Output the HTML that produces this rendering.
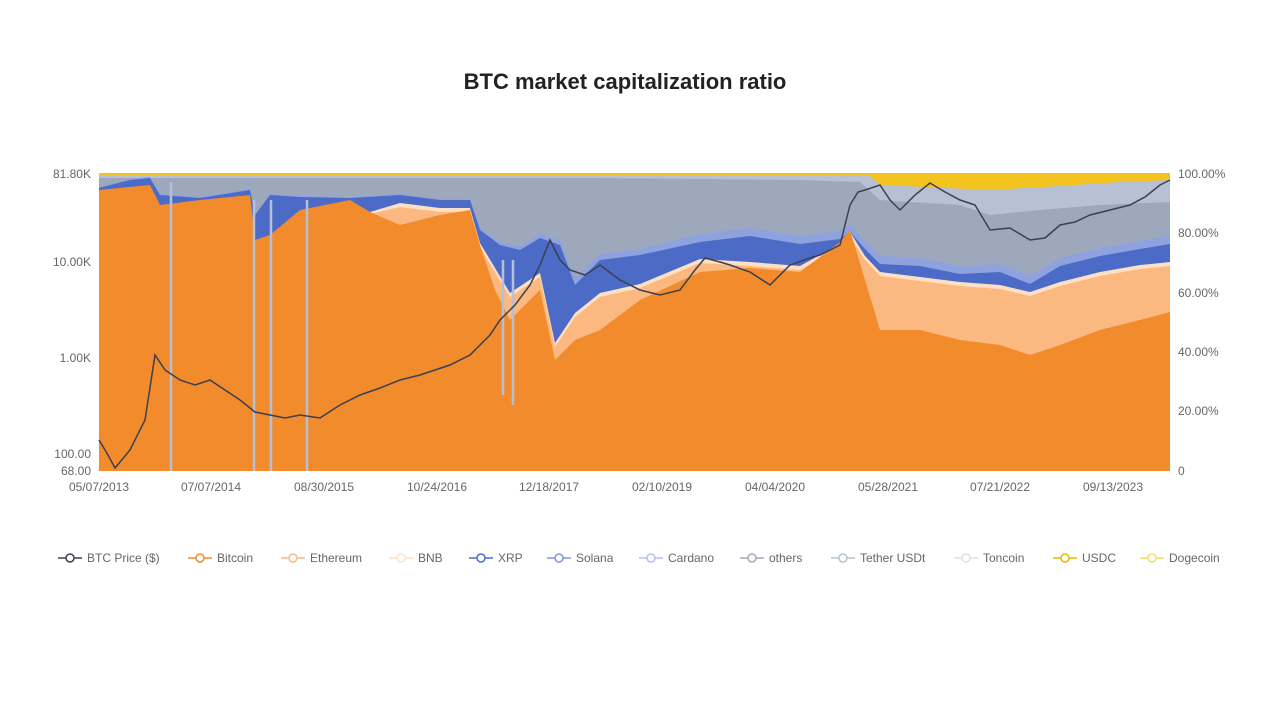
<!DOCTYPE html>
<html><head><meta charset="utf-8"><style>
body{margin:0;background:#fff;width:1280px;height:720px;overflow:hidden;font-family:"Liberation Sans",sans-serif;}
.t{position:absolute;top:69px;left:0;width:1250px;text-align:center;font-size:22px;font-weight:bold;color:#222;}
</style></head><body>
<div class="t">BTC market capitalization ratio</div>
<svg width="1280" height="720" style="position:absolute;left:0;top:0">
<g font-size="12" fill="#666" font-family="Liberation Sans,sans-serif">
<text x="91" y="178" text-anchor="end">81.80K</text>
<text x="91" y="266" text-anchor="end">10.00K</text>
<text x="91" y="362" text-anchor="end">1.00K</text>
<text x="91" y="458" text-anchor="end">100.00</text>
<text x="91" y="475" text-anchor="end">68.00</text>
<text x="1178" y="178">100.00%</text>
<text x="1178" y="237">80.00%</text>
<text x="1178" y="297">60.00%</text>
<text x="1178" y="356">40.00%</text>
<text x="1178" y="415">20.00%</text>
<text x="1178" y="475">0</text>
<g text-anchor="middle">
<text x="99" y="491">05/07/2013</text><text x="211" y="491">07/07/2014</text><text x="324" y="491">08/30/2015</text>
<text x="437" y="491">10/24/2016</text><text x="549" y="491">12/18/2017</text><text x="662" y="491">02/10/2019</text>
<text x="775" y="491">04/04/2020</text><text x="888" y="491">05/28/2021</text><text x="1000" y="491">07/21/2022</text><text x="1113" y="491">09/13/2023</text>
</g></g>
<rect x="99" y="173" width="1071" height="298" fill="#f3c31f"/>
<polygon fill="#b7c0d4" points="99,176 870,176 880,185 990,190 1060,186 1120,182 1170,180 1170,471 99,471"/>
<polygon fill="#9ea8bd" points="99,178 600,178 700,179 800,180 860,182 880,200 960,205 990,215 1040,210 1100,205 1170,202 1170,471 99,471"/>
<polygon fill="#8fa2e0" points="99,187 130,179 150,177 160,194 200,197 250,189 255,214 270,194 300,196 350,197 400,194 440,199 470,199 480,228 500,242 520,246 540,234 560,240 575,278 600,254 640,249 700,234 750,228 800,236 840,231 850,224 865,241 880,256 920,258 960,266 1000,264 1030,276 1060,258 1100,248 1140,241 1170,236 1170,471 99,471"/>
<polygon fill="#4b6bc6" points="99,188 130,180 150,178 160,195 200,198 250,190 255,215 270,195 300,197 350,198 400,195 440,200 470,200 480,230 500,245 520,250 540,238 560,245 575,285 600,260 640,255 700,242 750,236 800,244 840,239 850,232 865,249 880,264 920,266 960,274 1000,272 1030,284 1060,266 1100,256 1140,249 1170,244 1170,471 99,471"/>
<polygon fill="#fde0c4" points="99,192 150,187 160,207 200,202 250,197 255,242 270,237 300,212 350,202 370,212 400,203 440,208 470,208 480,243 495,268 510,293 540,273 555,343 575,313 600,293 640,284 700,259 750,262 800,266 840,244 850,232 865,256 880,272 920,277 960,282 1000,285 1030,292 1060,282 1100,272 1140,265 1170,262 1170,471 99,471"/>
<polygon fill="#fbb981" points="99,194 150,189 160,209 200,204 250,199 255,244 270,239 300,214 350,204 370,214 400,207 440,212 470,212 480,247 495,272 510,297 540,277 555,347 575,317 600,297 640,288 700,263 750,266 800,270 840,248 850,236 865,260 880,276 920,281 960,286 1000,289 1030,296 1060,286 1100,276 1140,269 1170,266 1170,471 99,471"/>
<polygon fill="#f28b2b" points="99,190 150,185 160,205 200,200 250,195 255,240 270,235 300,210 350,200 370,212 400,225 440,215 470,210 480,245 495,290 510,320 540,290 555,360 575,340 600,330 640,300 700,272 750,268 800,272 840,242 850,230 865,280 880,330 920,330 960,340 1000,345 1030,355 1060,345 1100,330 1140,320 1170,312 1170,471 99,471"/>
<g stroke="#b5c0d8" stroke-width="2.5">
<line x1="171" y1="182" x2="171" y2="471"/><line x1="254" y1="200" x2="254" y2="471"/><line x1="271" y1="200" x2="271" y2="471"/><line x1="307" y1="200" x2="307" y2="471"/><line x1="503" y1="260" x2="503" y2="395"/><line x1="513" y1="260" x2="513" y2="405"/>
</g>
<polyline fill="none" stroke="#3b4050" stroke-width="1.5" points="99,440 108,455 115,468 130,450 145,420 155,355 165,370 180,380 195,385 210,380 225,390 240,400 255,412 270,415 285,418 300,415 320,418 340,405 360,395 380,388 400,380 420,375 450,365 470,355 480,345 490,335 500,320 515,305 530,285 540,265 550,240 560,260 570,270 585,275 600,265 620,280 640,290 660,295 680,290 695,270 705,258 720,262 730,265 750,272 770,285 790,265 810,258 820,255 840,245 850,205 858,192 865,190 880,185 890,200 900,210 915,195 930,183 945,192 960,200 975,205 990,230 1010,228 1030,240 1045,238 1060,225 1075,222 1090,215 1110,210 1130,205 1145,197 1160,185 1170,180"/>
<g font-size="12" fill="#666" font-family="Liberation Sans,sans-serif" stroke-width="1.5">
<g transform="translate(70,558)"><line x1="-12" x2="12" stroke="#3b4050"/><circle r="4" fill="#fff" stroke="#3b4050"/><text x="17" y="4" stroke="none">BTC Price ($)</text></g>
<g transform="translate(200,558)"><line x1="-12" x2="12" stroke="#f28b2b"/><circle r="4" fill="#fff" stroke="#f28b2b"/><text x="17" y="4" stroke="none">Bitcoin</text></g>
<g transform="translate(293,558)"><line x1="-12" x2="12" stroke="#fbb981"/><circle r="4" fill="#fff" stroke="#fbb981"/><text x="17" y="4" stroke="none">Ethereum</text></g>
<g transform="translate(401,558)"><line x1="-12" x2="12" stroke="#fde0c4"/><circle r="4" fill="#fff" stroke="#fde0c4"/><text x="17" y="4" stroke="none">BNB</text></g>
<g transform="translate(481,558)"><line x1="-12" x2="12" stroke="#4b6bc6"/><circle r="4" fill="#fff" stroke="#4b6bc6"/><text x="17" y="4" stroke="none">XRP</text></g>
<g transform="translate(559,558)"><line x1="-12" x2="12" stroke="#7f95dd"/><circle r="4" fill="#fff" stroke="#7f95dd"/><text x="17" y="4" stroke="none">Solana</text></g>
<g transform="translate(651,558)"><line x1="-12" x2="12" stroke="#b4c0ec"/><circle r="4" fill="#fff" stroke="#b4c0ec"/><text x="17" y="4" stroke="none">Cardano</text></g>
<g transform="translate(752,558)"><line x1="-12" x2="12" stroke="#9ea8bd"/><circle r="4" fill="#fff" stroke="#9ea8bd"/><text x="17" y="4" stroke="none">others</text></g>
<g transform="translate(843,558)"><line x1="-12" x2="12" stroke="#b7c0d4"/><circle r="4" fill="#fff" stroke="#b7c0d4"/><text x="17" y="4" stroke="none">Tether USDt</text></g>
<g transform="translate(966,558)"><line x1="-12" x2="12" stroke="#dde1ea"/><circle r="4" fill="#fff" stroke="#dde1ea"/><text x="17" y="4" stroke="none">Toncoin</text></g>
<g transform="translate(1065,558)"><line x1="-12" x2="12" stroke="#e8b800"/><circle r="4" fill="#fff" stroke="#e8b800"/><text x="17" y="4" stroke="none">USDC</text></g>
<g transform="translate(1152,558)"><line x1="-12" x2="12" stroke="#f6dc6a"/><circle r="4" fill="#fff" stroke="#f6dc6a"/><text x="17" y="4" stroke="none">Dogecoin</text></g>
</g>
</svg>
</body></html>
